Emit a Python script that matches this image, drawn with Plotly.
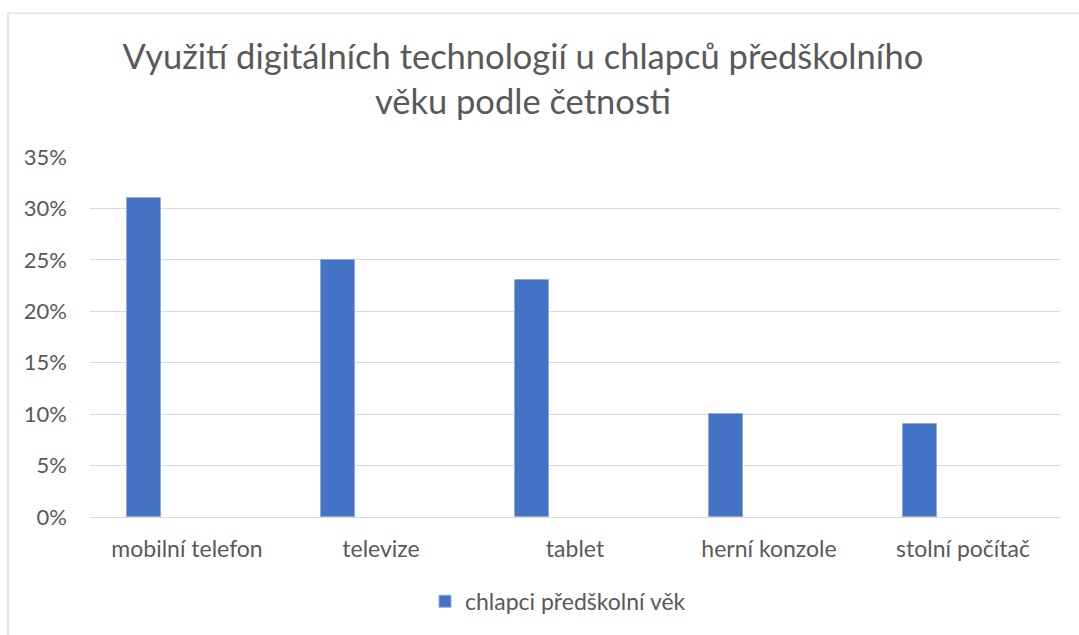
import plotly.graph_objects as go

categories = ["mobilní telefon", "televize", "tablet", "herní konzole", "stolní počítač"]
values = [0.31, 0.25, 0.23, 0.10, 0.09]
series_name = "chlapci předškolní věk"
title_text = "Využití digitálních technologií u chlapců předškolního<br>věku podle četnosti"
tick_vals = [0, 0.05, 0.10, 0.15, 0.20, 0.25, 0.30, 0.35]

FONT = "Lato, Carlito, sans-serif"
GREY = "#595959"

fig = go.Figure()
fig.add_trace(go.Bar(
    x=categories, y=values, name=series_name,
    marker=dict(color="#4472C4", line=dict(color="#8FAADC", width=1)),
    width=0.175, offset=-0.311,
    showlegend=True,
))

W, H = 1079, 635
L, R, T, B = 90, 19, 157, 115
pw, ph = W - L - R, H - T - B

def px_x(p):
    return (p - L) / pw

def px_y(p):
    return (H - B - p) / ph

fig.update_layout(
    width=W, height=H,
    margin=dict(l=L, r=R, t=T, b=B),
    paper_bgcolor="white", plot_bgcolor="white",
    font=dict(family=FONT, color=GREY, size=22),
    title=dict(text=title_text, x=523 / W, xref="container", xanchor="center",
               y=1 - 69 / H, yref="container", yanchor="middle",
               font=dict(size=34.5, color=GREY, family=FONT)),
    xaxis=dict(showgrid=False, showline=False, ticks="", tickfont=dict(size=23, color=GREY),
               ticklabelstandoff=16),
    yaxis=dict(range=[0, 0.35], tickvals=tick_vals, tickformat=".0%",
               showgrid=True, gridcolor="#d9d9d9", gridwidth=1.3,
               zeroline=True, zerolinecolor="#d9d9d9", zerolinewidth=1.3,
               showline=False, ticks="", tickfont=dict(size=22, color=GREY),
               ticklabelstandoff=22),
    legend=dict(orientation="h", x=px_x(558), xanchor="center", y=px_y(605), yanchor="middle",
                font=dict(size=23, color=GREY), itemwidth=30),
    bargap=0.0,
    shapes=[dict(type="rect", xref="paper", yref="paper",
                 x0=px_x(8), x1=px_x(1100), y0=px_y(660), y1=px_y(12),
                 line=dict(color="#d9d9d9", width=1.3), fillcolor="rgba(0,0,0,0)", layer="below")],
)

fig.write_html("out.html", config={"displayModeBar": False},
               post_script="document.body.style.margin='0';document.body.style.padding='0';")
